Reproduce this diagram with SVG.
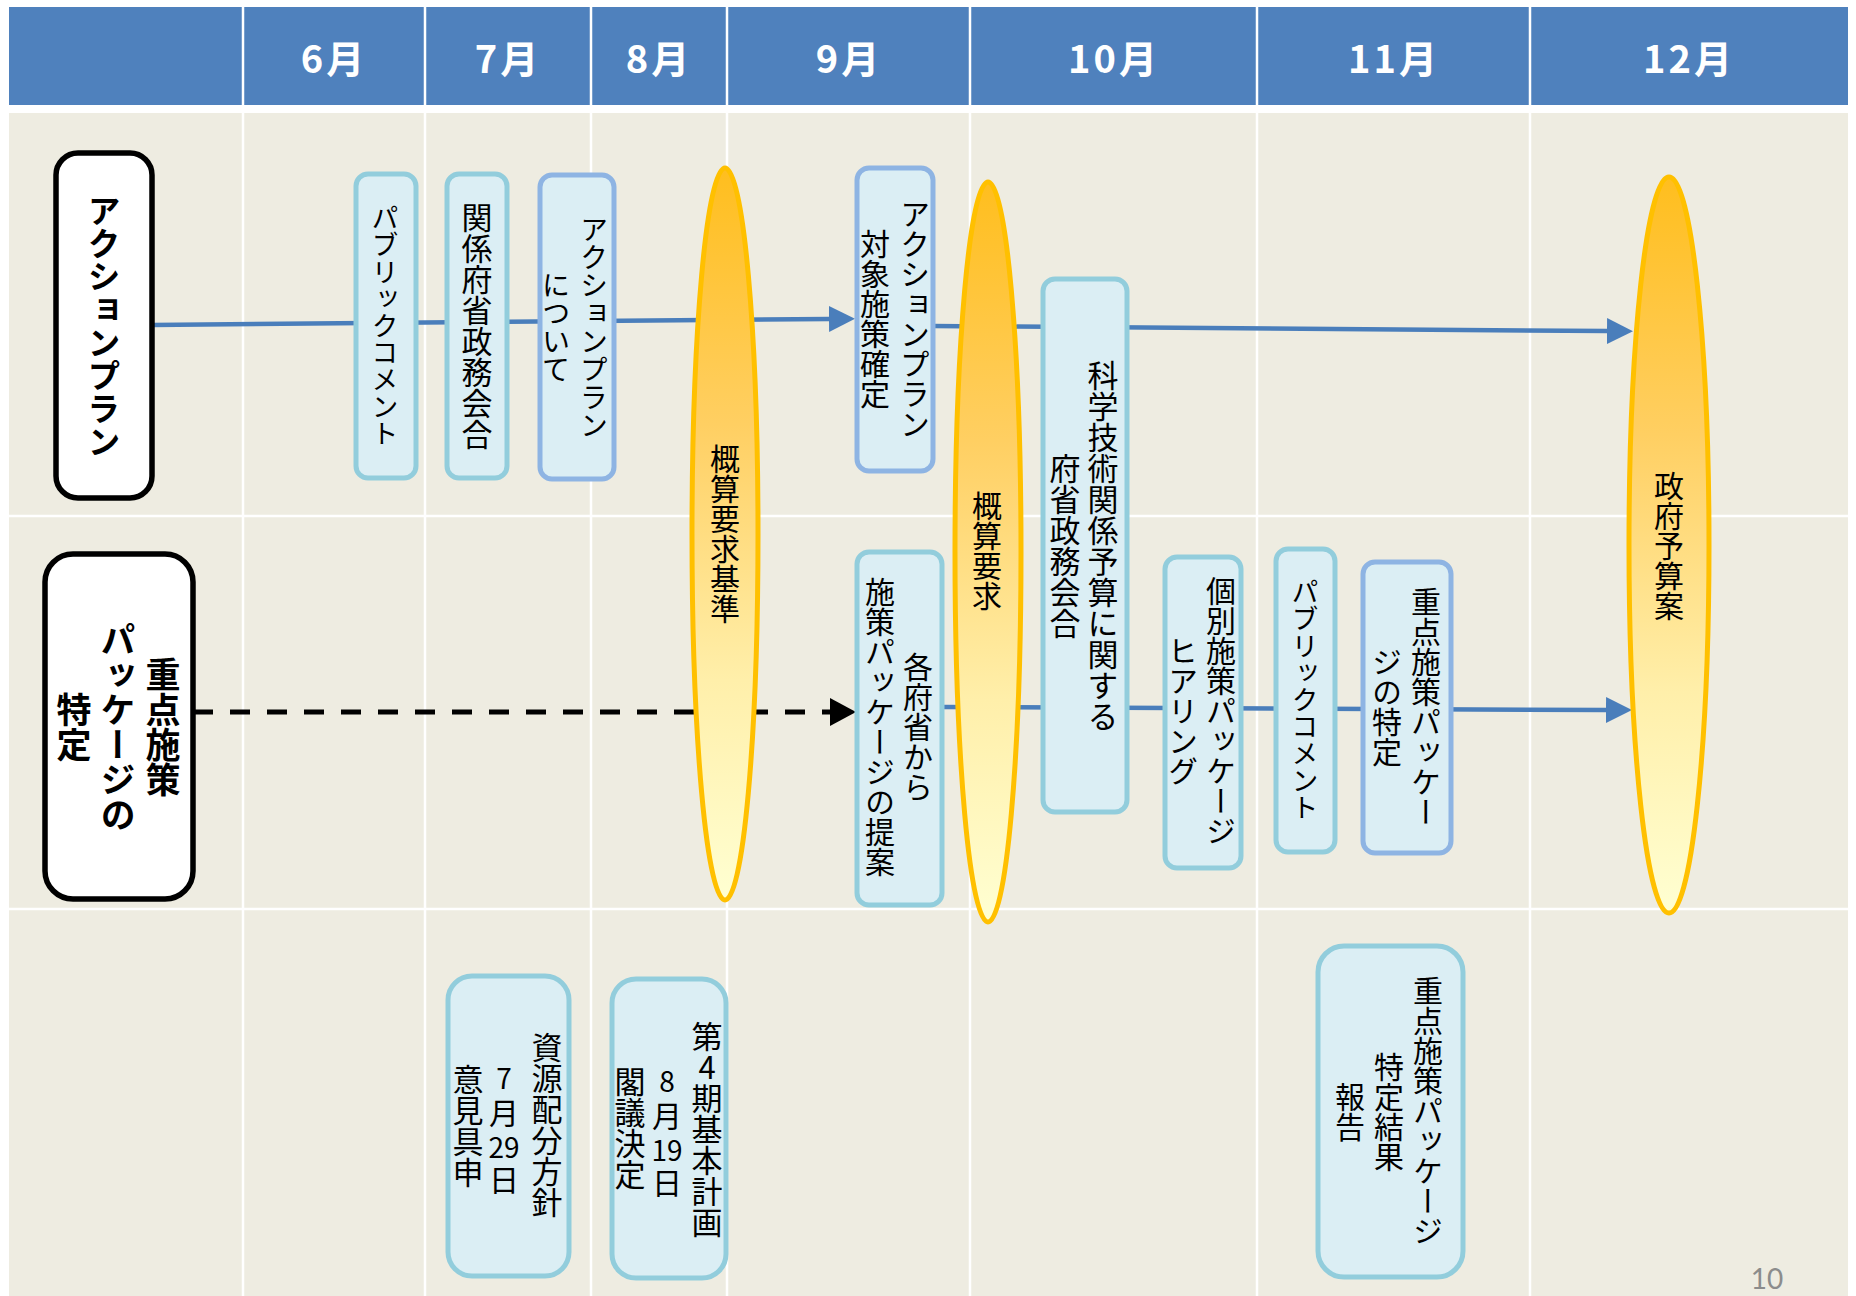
<svg xmlns="http://www.w3.org/2000/svg" width="1856" height="1296" viewBox="0 0 1856 1296">
<defs>
<style>
.hdr{fill:#4F81BD}
.band{fill:#EEECE1}
.grid{stroke:#FFFFFF;stroke-width:2.5}
.mon{font-family:"Noto Sans CJK JP","Noto Sans",sans-serif;font-size:38px;font-weight:bold;fill:#FFFFFF;text-anchor:middle;dominant-baseline:central;letter-spacing:3px}
.lbl{fill:#FFFFFF;stroke:#000000;stroke-width:5.5}
.bx{fill:#DBEEF4;stroke:#92CDDC;stroke-width:5}
.bx2{fill:#DBEEF4;stroke:#8EB4E3;stroke-width:5}
.ell{fill:url(#g);stroke:#FFC000;stroke-width:5}
.v{font-family:"Noto Sans CJK JP",sans-serif;writing-mode:vertical-rl;text-anchor:middle;fill:#000000}
.up{text-orientation:upright}
.h{font-family:"Noto Sans CJK JP",sans-serif;text-anchor:middle;dominant-baseline:central;fill:#000000}
.b{font-weight:bold}
.blue{stroke:#4A7EBB;stroke-width:4.5;fill:none}
.dash{stroke:#000000;stroke-width:5;stroke-dasharray:20 17;fill:none}
.pg{font-family:"Lato","Open Sans",sans-serif;font-size:28px;fill:#8C8C8C;text-anchor:middle}
</style>
<linearGradient id="g" x1="0" y1="0" x2="0" y2="1">
<stop offset="0" stop-color="#FFBE1E"/>
<stop offset="0.35" stop-color="#FFCF62"/>
<stop offset="0.7" stop-color="#FFEFAA"/>
<stop offset="1" stop-color="#FFFFD2"/>
</linearGradient>
<marker id="ab" markerUnits="userSpaceOnUse" markerWidth="27" markerHeight="27" refX="0" refY="13" orient="auto" viewBox="0 0 27 27">
<path d="M0,0 L26,13 L0,26 z" fill="#4A7EBB"/>
</marker>
<marker id="ak" markerUnits="userSpaceOnUse" markerWidth="27" markerHeight="29" refX="0" refY="14" orient="auto" viewBox="0 0 27 29">
<path d="M0,0 L26,14 L0,28 z" fill="#000000"/>
</marker>
</defs>

<rect x="0" y="0" width="1856" height="1296" fill="#FFFFFF"/>

<g id="table">
<rect class="hdr" x="9" y="7" width="1839" height="98"/>
<rect class="band" x="9" y="113" width="1839" height="1183"/>
<g class="grid">
<line x1="243" y1="7" x2="243" y2="105"/>
<line x1="425" y1="7" x2="425" y2="105"/>
<line x1="591" y1="7" x2="591" y2="105"/>
<line x1="727" y1="7" x2="727" y2="105"/>
<line x1="970" y1="7" x2="970" y2="105"/>
<line x1="1257" y1="7" x2="1257" y2="105"/>
<line x1="1530" y1="7" x2="1530" y2="105"/>
<line x1="243" y1="113" x2="243" y2="1296"/>
<line x1="425" y1="113" x2="425" y2="1296"/>
<line x1="591" y1="113" x2="591" y2="1296"/>
<line x1="727" y1="113" x2="727" y2="1296"/>
<line x1="970" y1="113" x2="970" y2="1296"/>
<line x1="1257" y1="113" x2="1257" y2="1296"/>
<line x1="1530" y1="113" x2="1530" y2="1296"/>
<line x1="9" y1="516" x2="1848" y2="516"/>
<line x1="9" y1="909" x2="1848" y2="909"/>
</g>
<text class="mon" x="334" y="56">6月</text>
<text class="mon" x="508" y="56">7月</text>
<text class="mon" x="659" y="56">8月</text>
<text class="mon" x="849" y="56">9月</text>
<text class="mon" x="1114" y="56">10月</text>
<text class="mon" x="1394" y="56">11月</text>
<text class="mon" x="1689" y="56">12月</text>
</g>

<g id="connectors">
<path class="blue" d="M152,325 L829,319" marker-end="url(#ab)"/>
<path class="blue" d="M933,326 L1607,331" marker-end="url(#ab)"/>
<path class="dash" d="M193,712 L830,712" marker-end="url(#ak)"/>
<path class="blue" d="M942,707 L1606,710" marker-end="url(#ab)"/>
</g>

<g id="n-actionplan">
<rect class="lbl" x="56" y="153" width="96" height="345" rx="22"/>
<text class="v b" x="104" y="326" font-size="33">アクションプラン</text>
</g>

<g id="n-package">
<rect class="lbl" x="45" y="554" width="148" height="345" rx="28"/>
<text class="v b" x="163" y="727" font-size="35">重点施策</text>
<text class="v b" x="118" y="727" font-size="35">パッケージの</text>
<text class="v b" x="74" y="727" font-size="35">特定</text>
</g>

<g id="n-pubcomment1">
<rect class="bx" x="356" y="174" width="60" height="304" rx="12"/>
<text class="v" x="385" y="326" font-size="27">パブリックコメント</text>
</g>

<g id="n-kankei">
<rect class="bx" x="447" y="174" width="60" height="304" rx="12"/>
<text class="v" x="477" y="326" font-size="31">関係府省政務会合</text>
</g>

<g id="n-apabout">
<rect class="bx2" x="540" y="175" width="74" height="304" rx="12"/>
<text class="v" x="594" y="327" font-size="28">アクションプラン</text>
<text class="v" x="556" y="327" font-size="28">について</text>
</g>

<g id="e-gaisan-kijun">
<ellipse class="ell" cx="725" cy="534" rx="33" ry="366"/>
<text class="v" x="725" y="534" font-size="30">概算要求基準</text>
</g>

<g id="n-target">
<rect class="bx2" x="857" y="168" width="76" height="303" rx="12"/>
<text class="v" x="915" y="319" font-size="30">アクションプラン</text>
<text class="v" x="875" y="319" font-size="30">対象施策確定</text>
</g>

<g id="n-proposal">
<rect class="bx" x="857" y="552" width="85" height="353" rx="12"/>
<text class="v" x="918" y="727" font-size="30">各府省から</text>
<text class="v" x="880" y="727" font-size="30">施策パッケージの提案</text>
</g>

<g id="e-gaisan">
<ellipse class="ell" cx="988" cy="552" rx="33" ry="370"/>
<text class="v" x="987" y="551" font-size="30">概算要求</text>
</g>

<g id="n-kagaku">
<rect class="bx" x="1043" y="279" width="84" height="533" rx="12"/>
<text class="v" x="1103" y="546" font-size="31">科学技術関係予算に関する</text>
<text class="v" x="1065" y="546" font-size="31">府省政務会合</text>
</g>

<g id="n-hearing">
<rect class="bx" x="1165" y="557" width="76" height="311" rx="12"/>
<text class="v" x="1221" y="711" font-size="30">個別施策パッケージ</text>
<text class="v" x="1183" y="711" font-size="30">ヒアリング</text>
</g>

<g id="n-pubcomment2">
<rect class="bx" x="1276" y="549" width="59" height="303" rx="12"/>
<text class="v" x="1305" y="700" font-size="27">パブリックコメント</text>
</g>

<g id="n-identify">
<rect class="bx2" x="1363" y="562" width="88" height="291" rx="12"/>
<text class="v" x="1426" y="707" font-size="30">重点施策パッケー</text>
<text class="v" x="1387" y="707" font-size="30">ジの特定</text>
</g>

<g id="e-budget">
<ellipse class="ell" cx="1669" cy="545" rx="40" ry="368"/>
<text class="v" x="1669" y="546" font-size="30">政府予算案</text>
</g>

<g id="n-shigen">
<rect class="bx" x="448" y="976" width="121" height="300" rx="24"/>
<text class="v" x="547" y="1125" font-size="31">資源配分方針</text>
<text class="h" font-size="30"><tspan x="504" y="1077" font-size="28">7</tspan><tspan x="504" y="1111">月</tspan><tspan x="504" y="1146" font-size="28">29</tspan><tspan x="504" y="1178">日</tspan></text>
<text class="v" x="468" y="1126" font-size="31">意見具申</text>
</g>

<g id="n-kihon">
<rect class="bx" x="612" y="979" width="114" height="299" rx="24"/>
<text class="v up" x="707" y="1129" font-size="31">第4期基本計画</text>
<text class="h" font-size="30"><tspan x="667" y="1080" font-size="28">8</tspan><tspan x="667" y="1114">月</tspan><tspan x="667" y="1149" font-size="28">19</tspan><tspan x="667" y="1181">日</tspan></text>
<text class="v" x="630" y="1128" font-size="31">閣議決定</text>
</g>

<g id="n-report">
<rect class="bx" x="1318" y="946" width="145" height="331" rx="26"/>
<text class="v" x="1428" y="1111" font-size="30">重点施策パッケージ</text>
<text class="v" x="1389" y="1112" font-size="30">特定結果</text>
<text class="v" x="1350" y="1112" font-size="30">報告</text>
</g>

<text class="pg" x="1767" y="1289">10</text>
</svg>
